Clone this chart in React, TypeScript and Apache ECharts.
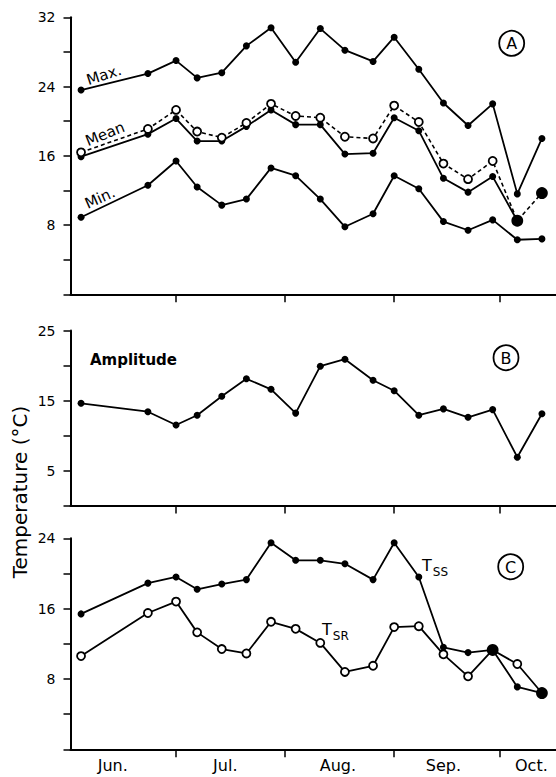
import React, { useEffect, useRef } from "react";
import * as echarts from "echarts";

// Sampling dates, as days since 1 June
const sampleDays = [3, 22, 30, 36, 43, 50, 57, 64, 71, 78, 86, 92, 99, 106, 113, 120, 127, 134];

// Panel A (deg C)
const maxTemp = [23.6, 25.5, 27.0, 25.0, 25.6, 28.7, 30.8, 26.8, 30.7, 28.2, 26.9, 29.7, 26.0, 22.1, 19.5, 22.0, 11.6, 18.0];
const meanTempSolid = [15.9, 18.5, 20.3, 17.7, 17.7, 19.4, 21.3, 19.6, 19.6, 16.2, 16.3, 20.4, 18.9, 13.4, 11.8, 13.6, 8.5, null];
const meanTempOpen = [16.4, 19.1, 21.3, 18.8, 18.1, 19.8, 22.0, 20.6, 20.4, 18.2, 18.0, 21.8, 19.9, 15.1, 13.3, 15.4, 8.5, 11.7];
const minTemp = [8.9, 12.6, 15.4, 12.4, 10.3, 11.0, 14.6, 13.7, 11.0, 7.8, 9.3, 13.7, 12.2, 8.4, 7.4, 8.6, 6.3, 6.4];
const meanCoincide = [16, 17];

// Panel B
const amplitude = [14.6, 13.4, 11.5, 12.9, 15.6, 18.1, 16.6, 13.2, 19.9, 20.9, 17.9, 16.4, 12.9, 13.8, 12.6, 13.7, 6.9, 13.1];

// Panel C
const tss = [15.4, 18.9, 19.6, 18.2, 18.8, 19.3, 23.5, 21.5, 21.5, 21.1, 19.3, 23.5, 19.6, 11.6, 11.0, 11.3, 7.1, 6.4];
const tsr = [10.6, 15.5, 16.8, 13.3, 11.4, 10.9, 14.5, 13.7, 12.1, 8.8, 9.5, 13.9, 14.0, 10.8, 8.3, 11.3, 9.7, 6.4];
const tCoincide = [15, 17];

// Axis
const monthStarts = [30, 61, 92, 122];
const monthNames = ["Jun.", "Jul.", "Aug.", "Sep.", "Oct."];
const monthLabelDays = [12, 44, 76, 106, 131];
const xMax = 138;

const FONT = "DejaVu Sans";
const BLACK = "#000";

function pairs(vals: (number | null)[]) {
  return sampleDays.map((d, i) => [d, vals[i] === null ? null : vals[i]]);
}

function filledSeries(vals: (number | null)[], idx: number) {
  return {
    type: "line",
    xAxisIndex: idx,
    yAxisIndex: idx,
    data: pairs(vals),
    symbol: "circle",
    symbolSize: 7,
    itemStyle: { color: BLACK },
    lineStyle: { color: BLACK, width: 1.8 },
    z: 3,
  };
}

function openSeries(vals: (number | null)[], idx: number, coincide: number[], dashed: boolean) {
  return {
    type: "line",
    xAxisIndex: idx,
    yAxisIndex: idx,
    data: sampleDays.map((d, i) =>
      coincide.includes(i)
        ? { value: [d, vals[i]], symbolSize: 10, itemStyle: { color: BLACK, borderColor: BLACK } }
        : { value: [d, vals[i]] }
    ),
    symbol: "circle",
    symbolSize: 8,
    itemStyle: { color: "#fff", borderColor: BLACK, borderWidth: 1.8 },
    lineStyle: { color: BLACK, width: dashed ? 1.6 : 1.8, type: dashed ? [4, 3] : "solid" },
    z: 4,
  };
}

function xAxis(idx: number, withLabels: boolean) {
  return {
    type: "value",
    gridIndex: idx,
    min: 0,
    max: xMax,
    axisLine: { show: true, onZero: false, lineStyle: { color: BLACK, width: 2 } },
    axisTick: { show: true, customValues: monthStarts, length: 8, inside: false, lineStyle: { color: BLACK, width: 1.5 } },
    axisLabel: withLabels
      ? {
          show: true,
          customValues: monthLabelDays,
          formatter: (v: number) => {
            const k = monthLabelDays.indexOf(v);
            return k >= 0 ? monthNames[k] : "";
          },
          color: BLACK,
          fontSize: 16,
          fontFamily: FONT,
          margin: 8,
        }
      : { show: false },
    splitLine: { show: false },
  };
}

function yAxis(idx: number, max: number, interval: number, labelEvery: number, labelOffset: number) {
  return {
    type: "value",
    gridIndex: idx,
    min: 0,
    max,
    interval,
    axisLine: { show: true, onZero: false, lineStyle: { color: BLACK, width: 2 } },
    axisTick: { show: true, length: 7, inside: false, lineStyle: { color: BLACK, width: 1.5 } },
    axisLabel: {
      show: true,
      color: BLACK,
      fontSize: 14,
      fontFamily: FONT,
      margin: 15,
      formatter: (v: number) => (v > 0 && (v - labelOffset) % labelEvery === 0 ? String(v) : ""),
    },
    splitLine: { show: false },
  };
}

function circledLetter(letter: string, cx: number, cy: number) {
  return [
    { type: "circle", shape: { cx, cy, r: 12.5 }, style: { fill: "none", stroke: BLACK, lineWidth: 1.8 } },
    {
      type: "text",
      x: cx,
      y: cy + 0.5,
      style: {
        text: letter,
        fontSize: 16,
        fontFamily: FONT,
        fill: BLACK,
        align: "center",
        verticalAlign: "middle",
        textAlign: "center",
        textVerticalAlign: "middle",
      },
    },
  ];
}

function label(text: string, x: number, y: number, rotDeg: number, fontSize: number, fontWeight = "normal") {
  return {
    type: "text",
    x,
    y,
    rotation: (rotDeg * Math.PI) / 180,
    style: {
      text,
      fontSize,
      fontWeight,
      fontFamily: FONT,
      fill: BLACK,
      align: "center",
      verticalAlign: "middle",
      textAlign: "center",
      textVerticalAlign: "middle",
    },
  };
}

function subLabel(main: string, sub: string, x: number, y: number) {
  return {
    type: "text",
    x,
    y,
    style: {
      text: `{t|${main}}{s|${sub}}`,
      fontFamily: FONT,
      fill: BLACK,
      align: "left",
      verticalAlign: "top",
      textAlign: "left",
      textVerticalAlign: "top",
      rich: {
        t: { fontSize: 16, fontFamily: FONT, fill: BLACK, color: BLACK, lineHeight: 16, verticalAlign: "top" },
        s: { fontSize: 12, fontFamily: FONT, fill: BLACK, color: BLACK, lineHeight: 12, padding: [9, 0, 0, 1], verticalAlign: "top" },
      },
    },
  };
}

export default function App() {
  const ref = useRef<HTMLDivElement>(null);
  useEffect(() => {
    if (!ref.current) return;
    const chart = echarts.init(ref.current, null, { renderer: "svg" });
    const option = {
      animation: false,
      backgroundColor: "#fff",
      grid: [
        { left: 70.5, right: 0, top: 17.3, height: 277, outerBoundsMode: "none", containLabel: false },
        { left: 70.5, right: 0, top: 330.5, height: 175, outerBoundsMode: "none", containLabel: false },
        { left: 70.5, right: 0, top: 538.3, height: 211, outerBoundsMode: "none", containLabel: false },
      ],
      xAxis: [xAxis(0, false), xAxis(1, false), xAxis(2, true)],
      yAxis: [yAxis(0, 32, 4, 8, 0), yAxis(1, 25, 5, 10, 5), yAxis(2, 24, 4, 8, 0)],
      series: [
        filledSeries(maxTemp, 0),
        filledSeries(meanTempSolid, 0),
        openSeries(meanTempOpen, 0, meanCoincide, true),
        filledSeries(minTemp, 0),
        filledSeries(amplitude, 1),
        filledSeries(tss, 2),
        openSeries(tsr, 2, tCoincide, false),
      ],
      graphic: [
        ...circledLetter("A", 511.7, 43.3),
        ...circledLetter("B", 506, 357.7),
        ...circledLetter("C", 510.7, 566.7),
        label("Max.", 104, 75, 18, 15),
        label("Mean", 105, 134, 22, 15),
        label("Min.", 100, 198, 24, 15),
        label("Amplitude", 133.5, 359.5, 0, 15, "bold"),
        label("Temperature (°C)", 20, 492, 90, 20),
        subLabel("T", "SS", 422, 557),
        subLabel("T", "SR", 322, 621),
      ],
    };
    chart.setOption(option as any);
    return () => chart.dispose();
  }, []);
  return <div ref={ref} style={{ position: "absolute", left: 0, top: 0, width: 556, height: 777 }} />;
}
